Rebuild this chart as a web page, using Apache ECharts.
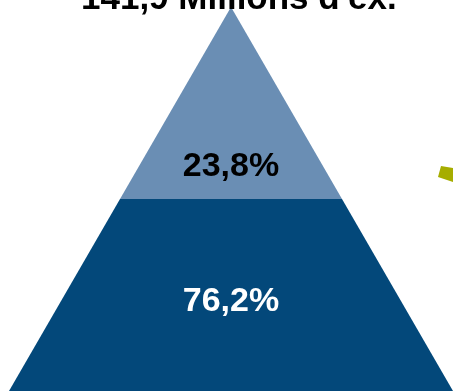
<!DOCTYPE html>
<html>
<head>
<meta charset="utf-8">
<script src="https://cdn.jsdelivr.net/npm/echarts@6/dist/echarts.min.js"></script>
<style>html,body{margin:0;padding:0;background:#fff}#c{width:453px;height:391px}</style>
</head>
<body>
<div id="c"></div>
<script>
// Data
var titleText = "141,9 Millions d'ex.";
var tierNames = ['Niveau haut', 'Niveau bas'];
var tierRank = [1, 2];            // pyramid tier (top = 1, base = 2)
var shareLabels = ['23,8%', '76,2%'];
var tierColors = ['#6a8eb4', '#03487a'];
var labelColors = ['#000000', '#ffffff'];

var chart = echarts.init(document.getElementById('c'), null, {renderer: 'canvas'});
// label vertical shift is done with leading blank lines of a given line height
var labelLineHeights = [64, 7];
var data = tierNames.map(function (n, i) {
  return {
    name: n,
    value: tierRank[i],
    itemStyle: {color: tierColors[i]},
    label: {color: labelColors[i], lineHeight: labelLineHeights[i]}
  };
});
chart.setOption({
  animation: false,
  title: {
    text: titleText,
    left: 76,
    top: -23,
    textStyle: {fontFamily: 'Liberation Sans, Arial, sans-serif', fontSize: 35, fontWeight: 'bold', color: '#000'}
  },
  graphic: [{
    type: 'polygon',
    shape: {points: [[441, 166], [453, 168], [453, 182], [438, 177]]},
    style: {fill: '#a6ad00'},
    silent: true
  }],
  series: [{
    type: 'funnel',
    sort: 'ascending',
    left: 9,
    top: 7,
    width: 444,
    height: 384,
    min: 0,
    max: 2,
    minSize: '0%',
    maxSize: '100%',
    gap: 0,
    itemStyle: {borderWidth: 0},
    label: {
      show: true,
      position: 'inside',
      fontFamily: 'Liberation Sans, Arial, sans-serif',
      fontSize: 34,
      fontWeight: 'bold',
      formatter: function (p) { return '\n\n' + shareLabels[p.dataIndex]; }
    },
    labelLine: {show: false},
    emphasis: {disabled: true},
    data: data
  }]
});
</script>
</body>
</html>
